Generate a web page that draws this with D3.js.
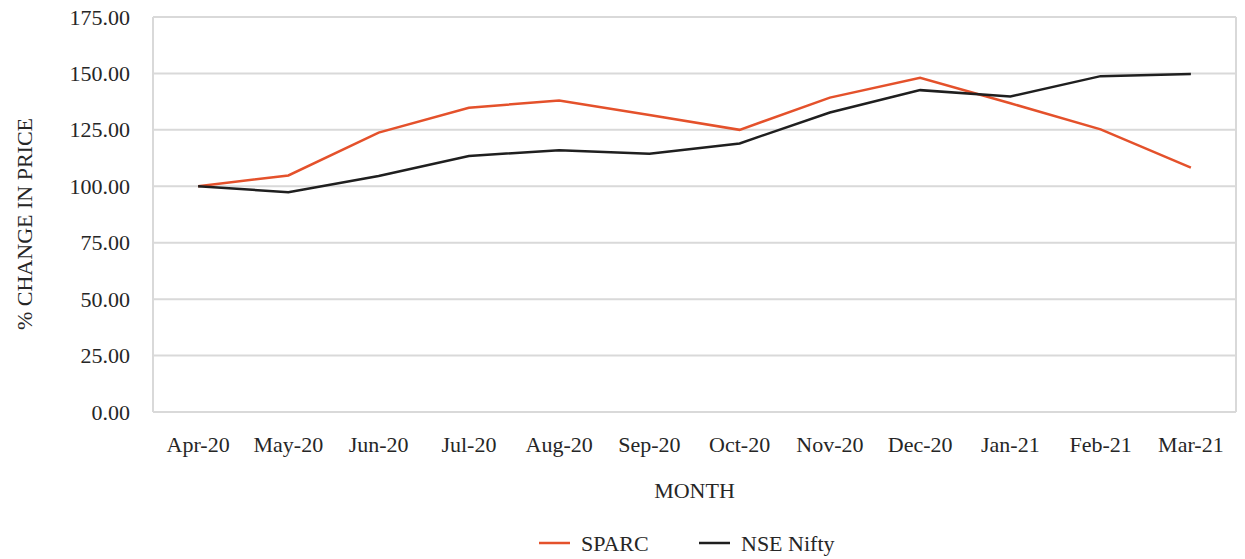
<!DOCTYPE html>
<html>
<head>
<meta charset="utf-8">
<script src="https://cdn.jsdelivr.net/npm/d3@7"></script>
<style>
  body { margin: 0; background: #fff; }
</style>
</head>
<body>
<div class="canvas"></div>
<script>
// chart data
const months = ['Apr-20','May-20','Jun-20','Jul-20','Aug-20','Sep-20','Oct-20','Nov-20','Dec-20','Jan-21','Feb-21','Mar-21'];
const sparc = [100, 104.8, 123.8, 134.8, 138.0, 131.6, 125.0, 139.3, 148.1, 136.8, 125.2, 108.3];
const nifty = [100, 97.4, 104.6, 113.4, 116.0, 114.4, 119.0, 132.7, 142.6, 139.8, 148.8, 149.7];
const yTicks = [0, 25, 50, 75, 100, 125, 150, 175];

const width = 1245, height = 559;
const margin = {top: 17, right: 10, bottom: 147, left: 153};
const graphWidth = 1236 - margin.left;
const graphHeight = 412 - margin.top;
const fontSize = 22;
const font = '"Liberation Serif", "Times New Roman", serif';
const textColor = '#262626';

const svg = d3.select('.canvas')
    .append('svg')
    .attr('width', width)
    .attr('height', height);

const graph = svg.append('g')
    .attr('transform', `translate(${margin.left},${margin.top})`);

const x = d3.scaleBand()
    .domain(months)
    .range([0, graphWidth]);

const y = d3.scaleLinear()
    .domain([0, 175])
    .range([graphHeight, 0]);

// gridlines
graph.append('g')
    .selectAll('line')
    .data(yTicks)
    .enter()
    .append('line')
    .attr('x1', 0)
    .attr('x2', graphWidth)
    .attr('y1', d => y(d))
    .attr('y2', d => y(d))
    .attr('stroke', '#d9d9d9')
    .attr('stroke-width', 2);

// side borders
graph.append('line')
    .attr('x1', 0).attr('x2', 0)
    .attr('y1', 0).attr('y2', graphHeight)
    .attr('stroke', '#d9d9d9').attr('stroke-width', 2);
graph.append('line')
    .attr('x1', graphWidth).attr('x2', graphWidth)
    .attr('y1', 0).attr('y2', graphHeight)
    .attr('stroke', '#d9d9d9').attr('stroke-width', 2);

// axes
const yAxis = d3.axisLeft(y)
    .tickValues(yTicks)
    .tickSize(0)
    .tickPadding(23)
    .tickFormat(d => d.toFixed(2));
const yAxisGroup = graph.append('g').call(yAxis);
yAxisGroup.select('.domain').remove();
yAxisGroup.selectAll('text')
    .style('font-family', font)
    .style('font-size', fontSize + 'px')
    .style('fill', textColor);

const xAxis = d3.axisBottom(x)
    .tickSize(0)
    .tickPadding(24);
const xAxisGroup = graph.append('g')
    .attr('transform', `translate(0, ${graphHeight})`)
    .call(xAxis);
xAxisGroup.select('.domain').remove();
xAxisGroup.selectAll('text')
    .style('font-family', font)
    .style('font-size', fontSize + 'px')
    .style('fill', textColor);

// lines
const line = d3.line()
    .x((d, i) => x(months[i]) + x.bandwidth() / 2)
    .y(d => y(d));

graph.append('path')
    .datum(sparc)
    .attr('fill', 'none')
    .attr('stroke', '#E4512B')
    .attr('stroke-width', 2.5)
    .attr('d', line);

graph.append('path')
    .datum(nifty)
    .attr('fill', 'none')
    .attr('stroke', '#1f1f1f')
    .attr('stroke-width', 2.5)
    .attr('d', line);

// axis titles
svg.append('text')
    .attr('x', margin.left + graphWidth / 2)
    .attr('y', 498)
    .attr('text-anchor', 'middle')
    .style('font-family', font)
    .style('font-size', fontSize + 'px')
    .style('fill', textColor)
    .text('MONTH');

svg.append('text')
    .attr('transform', 'translate(32, 224) rotate(-90)')
    .attr('text-anchor', 'middle')
    .style('font-family', font)
    .style('font-size', fontSize + 'px')
    .style('fill', textColor)
    .text('% CHANGE IN PRICE');

// legend
const legend = [
  {name: 'SPARC', color: '#E4512B', x: 539},
  {name: 'NSE Nifty', color: '#1f1f1f', x: 699}
];
const lg = svg.append('g');
legend.forEach(l => {
  lg.append('line')
    .attr('x1', l.x).attr('x2', l.x + 31)
    .attr('y1', 543).attr('y2', 543)
    .attr('stroke', l.color).attr('stroke-width', 2.5);
  lg.append('text')
    .attr('x', l.x + 42)
    .attr('y', 551)
    .style('font-family', font)
    .style('font-size', fontSize + 'px')
    .style('fill', textColor)
    .text(l.name);
});
</script>
</body>
</html>
